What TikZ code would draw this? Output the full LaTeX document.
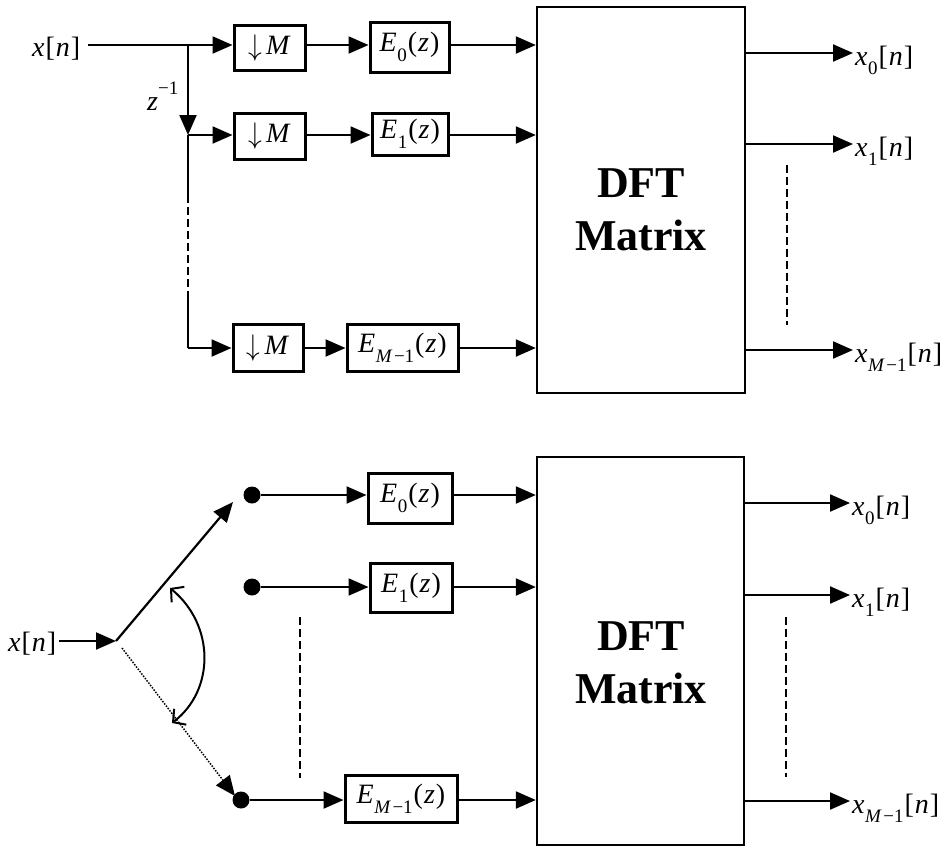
\documentclass[tikz,border=0pt]{standalone}
\usepackage{fontspec}
\setmainfont{Liberation Serif}
\usetikzlibrary{arrows.meta,calc}
\newcommand\sbs[1]{\raisebox{-0.34em}{\fontsize{19}{19}\selectfont #1}}
\newcommand\sps[1]{\raisebox{0.55em}{\fontsize{19}{19}\selectfont #1}}
\newcommand\xn{\textit{x}\kern1pt[\kern1pt\textit{n}\kern1pt]}
\newcommand\xs[1]{\textit{x}\kern0.5pt\sbs{#1}\kern1pt[\kern1pt\textit{n}\kern1pt]}
\newcommand\Es[1]{\textit{E}\kern0.5pt\sbs{#1}\kern1pt(\kern1pt\textit{z}\kern1pt)}
\newcommand\Mm{\textit{M}\kern1.5pt{}−1}
\newcommand\dM{\raisebox{-1pt}{\scalebox{1.1}[1.2]{$\downarrow$}}\kern4pt\textit{M}}
\begin{document}
\begin{tikzpicture}[x=1pt,y=-1pt,
  every node/.style={font=\fontsize{28}{32}\selectfont},
  blk/.style={draw,line width=3pt,inner sep=0pt},
  dftbox/.style={draw,line width=2.4pt,inner sep=0pt},
  sig/.style={line width=2.2pt,-{Triangle[length=20pt,width=17pt]}},
  wire/.style={line width=2.2pt},
  dash8/.style={line width=2.2pt,dash pattern=on 8pt off 4pt},
  dotln/.style={line width=1.5pt,dash pattern=on 1.5pt off 1.4pt},
  swing/.style={line width=2pt,{Straight Barb[length=9pt,width=20pt]}-{Straight Barb[length=9pt,width=20pt]}},
  lbl/.style={inner sep=0pt,anchor=base west},
  dot/.style={circle,fill,inner sep=0pt,minimum size=17pt},
  dfttxt/.style={font=\fontsize{44}{50}\selectfont\bfseries,anchor=base,inner sep=0pt}]
\useasboundingbox (0,0) rectangle (949,847);

% ================= TOP =================
\node[lbl] (xin) at (32,56) {\xn};
\coordinate (br) at (188,45);
\coordinate (k1) at (188,135);
\coordinate (c1) at (188,195);
\coordinate (c2) at (188,298);
\coordinate (k2) at (188,348);
\node[lbl] (zinv) at (147,110) {\textit{z}\sps{−1}};

\node[blk,minimum width=71pt,minimum height=45pt] (dm0) at (269.5,48) {\dM};
\node[blk,minimum width=71pt,minimum height=46pt] (dm1) at (269.5,136) {\dM};
\node[blk,minimum width=70pt,minimum height=47pt] (dm2) at (268,348) {\dM};

\node[blk,minimum width=79pt,minimum height=50pt] (E0) at (409.5,47) {\Es{0}};
\node[blk,minimum width=76pt,minimum height=42pt] (E1) at (410,134) {\Es{1}};
\node[blk,minimum width=111pt,minimum height=47pt] (EM) at (402.5,348) {\Es{\Mm}};

\node[dftbox,minimum width=208pt,minimum height=386pt] (D1) at (641,200) {};
\node[dfttxt] (D1a) at (641,197) {DFT};
\node[dfttxt] (D1b) at (641,250) {Matrix};

\draw[wire] (xin.east |- br) ++(8,0) -- (br);
\draw[sig] (br) -- (dm0.west |- br);
\draw[sig] (br) -- (k1);
\draw[sig] (k1) -- (dm1.west |- k1);
\draw[wire] (k1) -- (c1);
\draw[dash8] (c1) -- (c2);
\draw[wire] (c2) -- (k2);
\draw[sig] (k2) -- (dm2.west |- k2);

\draw[sig] (dm0.east |- br) -- (E0.west |- br);
\draw[sig] (dm1.east |- k1) -- (E1.west |- k1);
\draw[sig] (dm2.east |- k2) -- (EM.west |- k2);

\draw[sig] (E0.east |- br) -- (D1.west |- br);
\draw[sig] (E1.east |- k1) -- (D1.west |- k1);
\draw[sig] (EM.east |- k2) -- (D1.west |- k2);

\coordinate (t0) at (853,53);
\coordinate (t1) at (853,144);
\coordinate (t2) at (853,350);
\node[lbl] (o0) at ($(t0)+(2,12)$) {\xs{0}};
\node[lbl] (o1) at ($(t1)+(2,12)$) {\xs{1}};
\node[lbl] (o2) at ($(t2)+(2,12)$) {\xs{\Mm}};
\draw[sig] (D1.east |- t0) -- (t0);
\draw[sig] (D1.east |- t1) -- (t1);
\draw[sig] (D1.east |- t2) -- (t2);
\draw[dash8] (787,165) -- (787,325);

% ================= BOTTOM =================
\node[lbl] (xin2) at (8,651) {\xn};
\coordinate (p) at (116,641);
\coordinate (pd) at (122,648);
\coordinate (a0) at (233,502);
\coordinate (a2) at (235,796);

\node[dot] (d0) at (252,495) {};
\node[dot] (d1) at (252,587) {};
\node[dot] (d2) at (241,800) {};

\node[blk,minimum width=84pt,minimum height=50pt] (F0) at (410,498) {\Es{0}};
\node[blk,minimum width=82pt,minimum height=49pt] (F1) at (411,588) {\Es{1}};
\node[blk,minimum width=112pt,minimum height=47pt] (FM) at (401,799) {\Es{\Mm}};

\node[dftbox,minimum width=207pt,minimum height=388pt] (D2) at (640.5,651) {};
\node[dfttxt] (D2a) at (641,650) {DFT};
\node[dfttxt] (D2b) at (641,703) {Matrix};

\draw[sig] (xin2.east |- p) ++(3,0) -- (p);
\draw[sig] (p) -- (a0);
\draw[dotln,-{Triangle[length=20pt,width=17pt]}] (pd) -- (a2);
\draw[swing] (170,588) .. controls (215,625) and (215,690) .. (172,723);

\draw[sig] (d0) -- (F0.west |- d0);
\draw[sig] (d1) -- (F1.west |- d1);
\draw[sig] (d2) -- (FM.west |- d2);
\draw[dash8] (300,617) -- (300,778);

\draw[sig] (F0.east |- d0) -- (D2.west |- d0);
\draw[sig] (F1.east |- d1) -- (D2.west |- d1);
\draw[sig] (FM.east |- d2) -- (D2.west |- d2);

\coordinate (u0) at (850,503);
\coordinate (u1) at (850,595);
\coordinate (u2) at (850,801);
\node[lbl] (q0) at ($(u0)+(2,12)$) {\xs{0}};
\node[lbl] (q1) at ($(u1)+(2,12)$) {\xs{1}};
\node[lbl] (q2) at ($(u2)+(2,12)$) {\xs{\Mm}};
\draw[sig] (D2.east |- u0) -- (u0);
\draw[sig] (D2.east |- u1) -- (u1);
\draw[sig] (D2.east |- u2) -- (u2);
\draw[dash8] (786,617) -- (786,777);
\end{tikzpicture}
\end{document}
